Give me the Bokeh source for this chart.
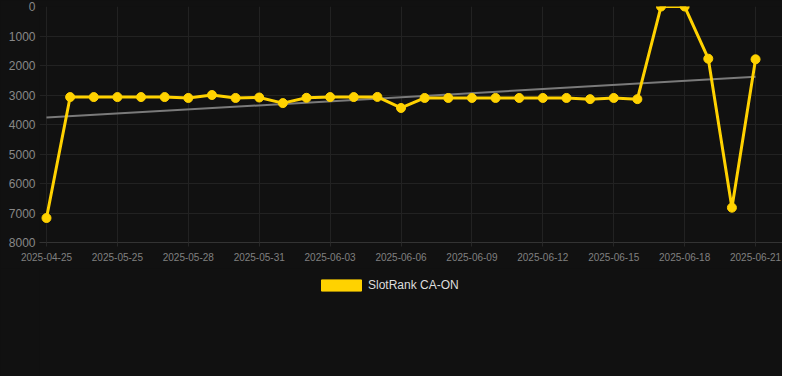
from bokeh.plotting import figure
from bokeh.layouts import column
from bokeh.models import Range1d, FixedTicker, Legend, LegendItem
from bokeh.embed import file_html
from bokeh.resources import INLINE
import numpy as np

# ---- data ----
dates = [
    "2025-04-25", "2025-05-23", "2025-05-24", "2025-05-25", "2025-05-26",
    "2025-05-27", "2025-05-28", "2025-05-29", "2025-05-30", "2025-05-31",
    "2025-06-01", "2025-06-02", "2025-06-03", "2025-06-04", "2025-06-05",
    "2025-06-06", "2025-06-07", "2025-06-08", "2025-06-09", "2025-06-10",
    "2025-06-11", "2025-06-12", "2025-06-13", "2025-06-14", "2025-06-15",
    "2025-06-16", "2025-06-17", "2025-06-18", "2025-06-19", "2025-06-20",
    "2025-06-21",
]
ranks = [
    7170, 3070, 3070, 3070, 3070, 3070, 3100, 3000, 3100, 3085,
    3275, 3095, 3070, 3070, 3065, 3440, 3100, 3100, 3100, 3100,
    3100, 3100, 3100, 3140, 3100, 3140, 1, 1, 1770, 6820,
    1790,
]
series_name = "SlotRank CA-ON"
y_ticks = [0, 1000, 2000, 3000, 4000, 5000, 6000, 7000, 8000]

idx = list(range(len(dates)))
x_tick_idx = idx[::3]

# linear trend of the series
slope, intercept = np.polyfit(idx, ranks, 1)
trend_x = [idx[0], idx[-1]]
trend_y = [intercept + slope * x for x in trend_x]

BG = "#111111"
GOLD = "#FFD200"
FONT = "Liberation Sans"

p = figure(
    frame_width=743, frame_height=236, output_backend="svg", toolbar_location=None,
    x_range=Range1d(-0.296, 31.14), y_range=Range1d(8000, 0),
    background_fill_color=BG, border_fill_color=BG,
    min_border_left=39, min_border_right=0, min_border_top=6,
    min_border_bottom=26,
)
p.outline_line_color = None

# trend line
p.line(trend_x, trend_y, line_color="#7a7a7a", line_width=2)
# series
p.line(idx, ranks, line_color=GOLD, line_width=3)
p.scatter(idx, ranks, size=9, fill_color=GOLD, line_color=GOLD)

# x axis
xt = FixedTicker(ticks=x_tick_idx)
p.xaxis.ticker = xt
p.xgrid.ticker = xt
p.xaxis.major_label_overrides = {i: dates[i] for i in x_tick_idx}
p.xaxis.major_label_text_font = FONT
p.xaxis.major_label_text_font_size = "10px"
p.xaxis.major_label_text_color = "#808080"
p.xaxis.axis_line_color = "#333333"
p.xaxis.major_tick_line_color = "#262626"
p.xaxis.major_tick_out = 4
p.xaxis.major_tick_in = 0
p.xaxis.minor_tick_line_color = None
p.xaxis.major_label_standoff = 6

# y axis
yt = FixedTicker(ticks=y_ticks)
p.yaxis.ticker = yt
p.ygrid.ticker = yt
p.yaxis.major_label_text_font = FONT
p.yaxis.major_label_text_font_size = "12px"
p.yaxis.major_label_text_color = "#888888"
p.yaxis.axis_line_color = None
p.yaxis.major_tick_line_color = None
p.yaxis.minor_tick_line_color = None
p.yaxis.major_tick_out = 0
p.yaxis.major_label_standoff = 4

p.xgrid.grid_line_color = "#222222"
p.ygrid.grid_line_color = "#222222"

# ---- legend strip below the chart ----
lg = figure(
    width=782, height=108, output_backend="svg", toolbar_location=None,
    x_axis_type=None, y_axis_type=None,
    x_range=Range1d(0, 1), y_range=Range1d(0, 1),
    background_fill_color=BG, border_fill_color=BG, min_border=0,
)
lg.outline_line_color = None
lg.grid.visible = False
# proxy glyph kept outside the visible range; only its legend swatch shows
proxy = lg.quad(left=[5], right=[6], top=[6], bottom=[5], fill_color=GOLD, line_color=GOLD)

legend = Legend(
    items=[LegendItem(label=series_name, renderers=[proxy])],
    orientation="horizontal", location=(277, 84),
    glyph_width=50, glyph_height=14, label_standoff=2,
    label_text_font=FONT, label_text_font_size="12px", label_text_color="#dddddd",
    background_fill_alpha=0, border_line_color=None, padding=7, margin=0,
)
lg.add_layout(legend, "center")

layout = column(p, lg, spacing=0)
layout.styles = {"background-color": BG}

open("out.html", "w").write(file_html(layout, INLINE))
